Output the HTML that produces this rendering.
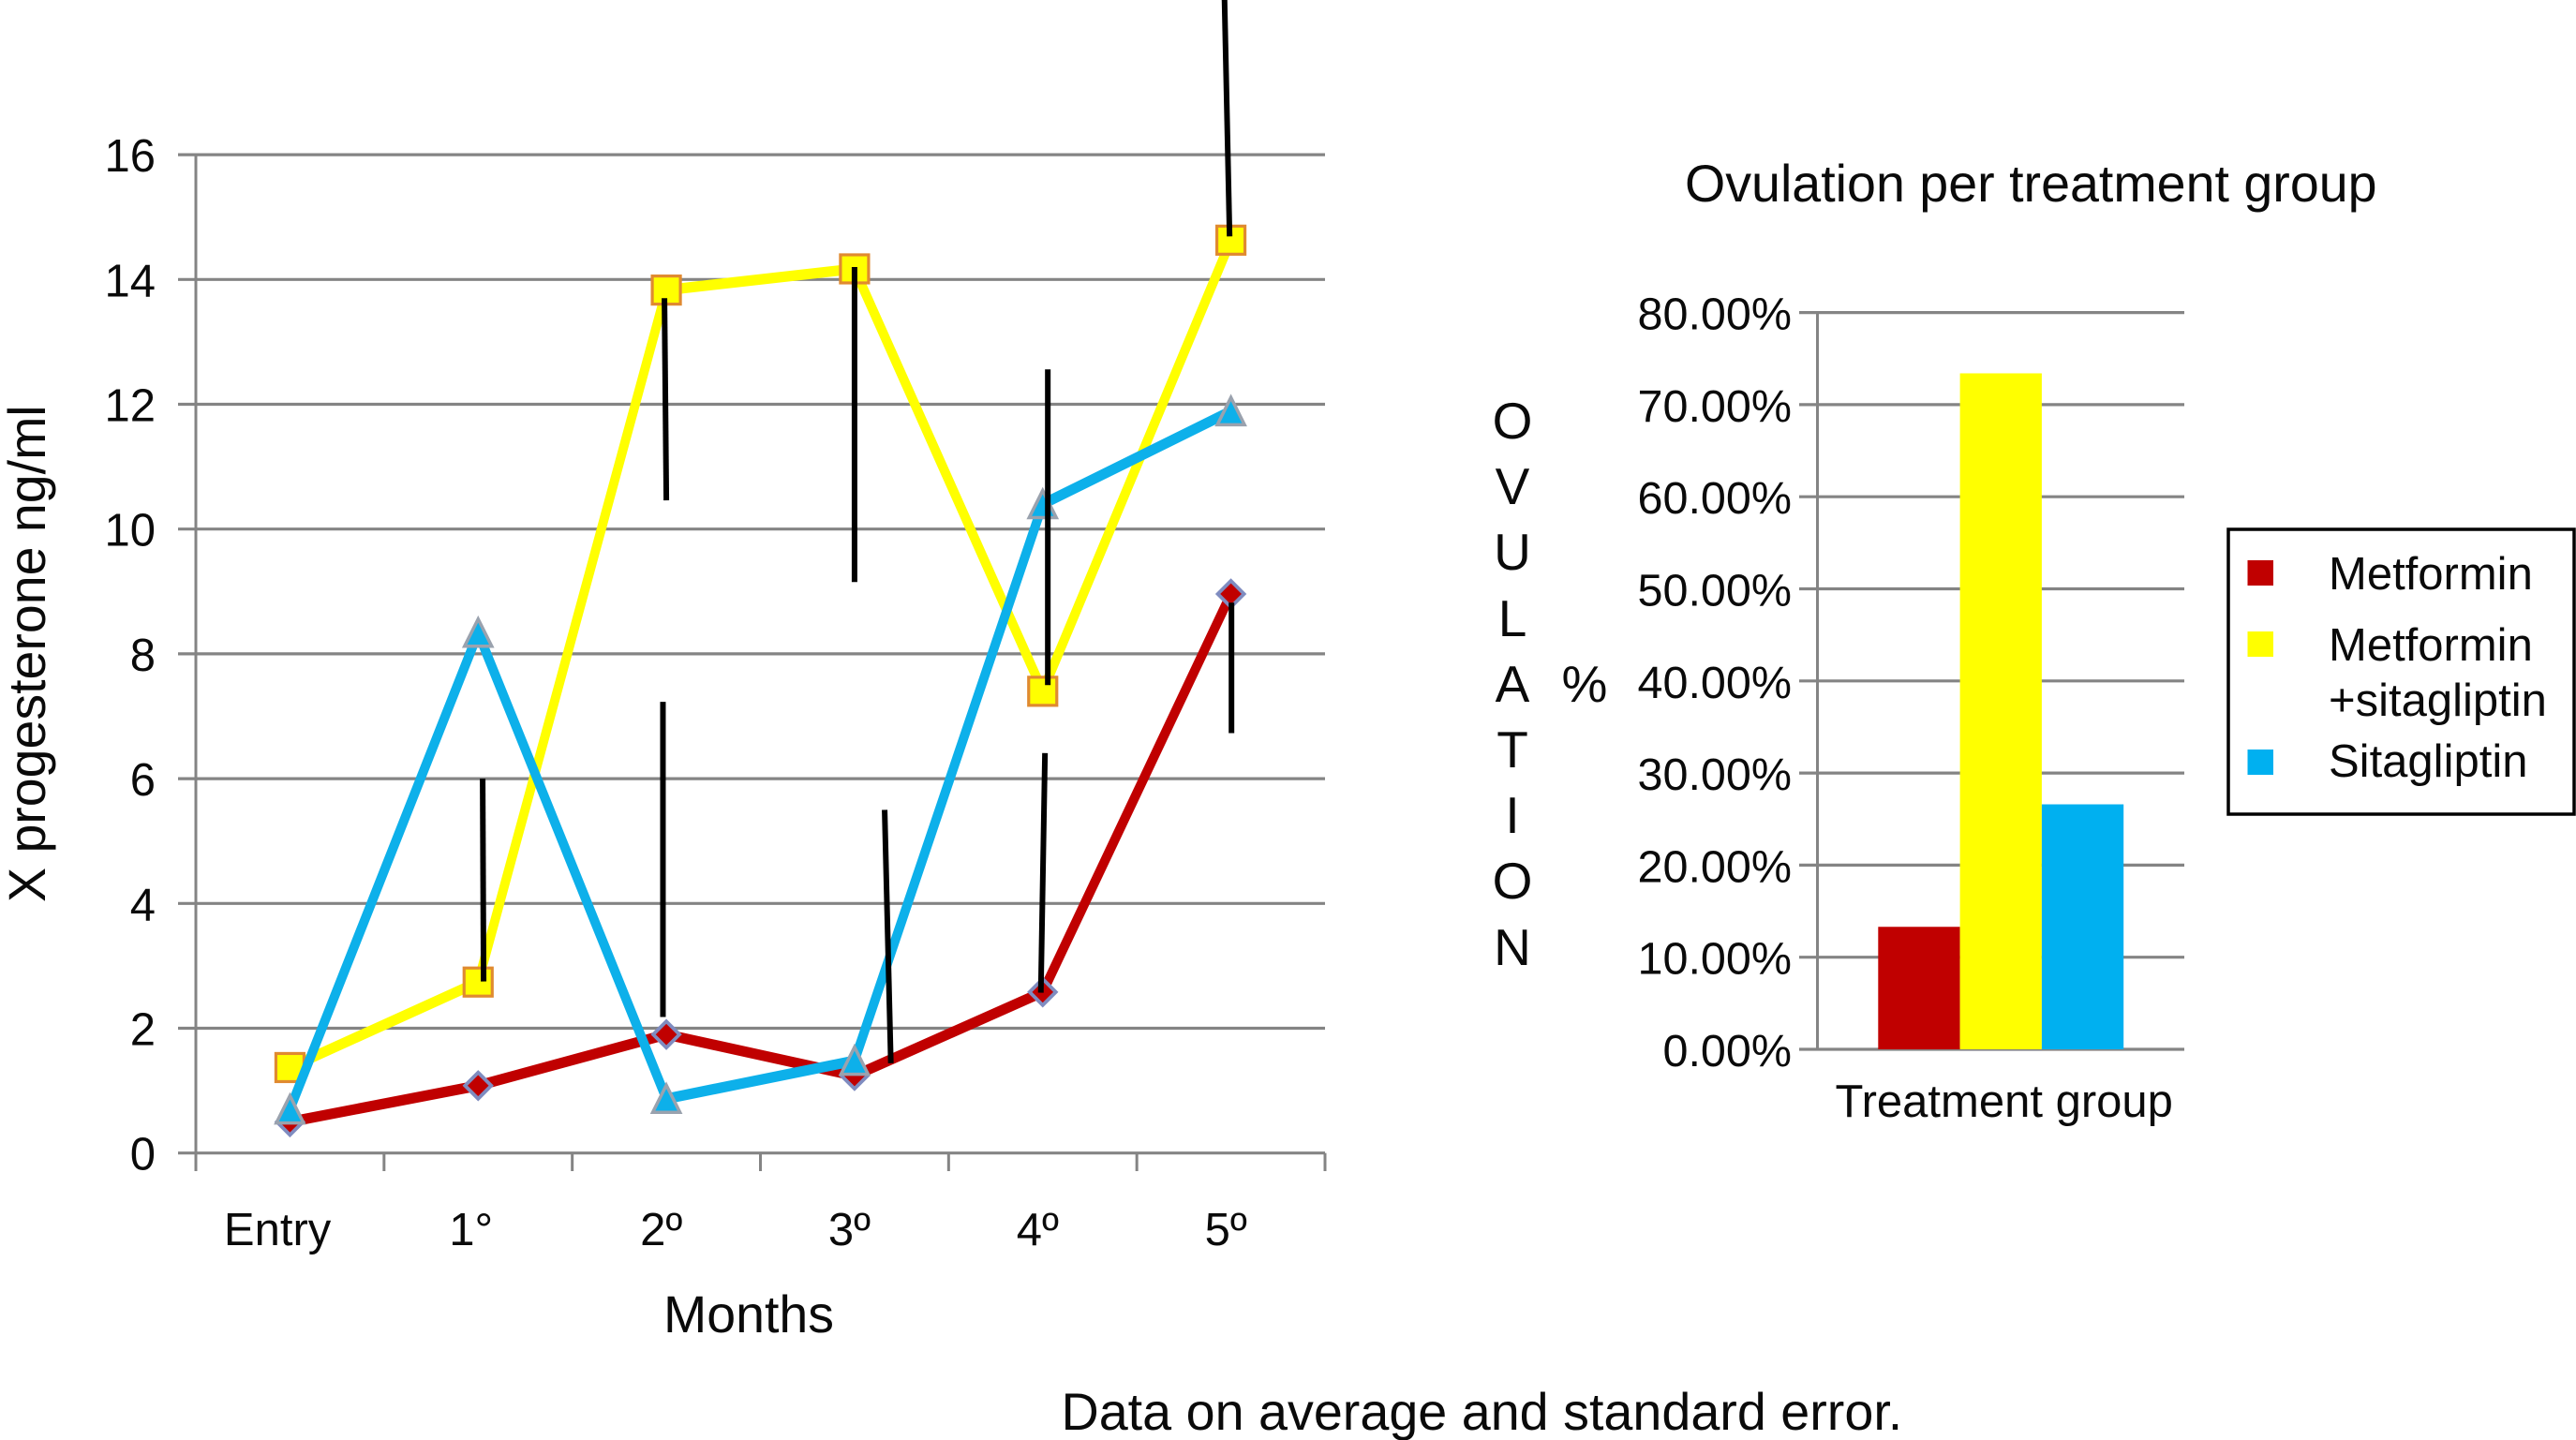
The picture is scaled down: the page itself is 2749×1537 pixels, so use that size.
<!DOCTYPE html>
<html lang="en">
<head>
<meta charset="utf-8">
<title>Progesterone and ovulation per treatment group</title>
<style>
  html, body { margin: 0; padding: 0; background: #ffffff; }
  body { width: 2749px; height: 1537px; overflow: hidden; }
  svg { display: block; }
  text { font-family: "Liberation Sans", Arial, sans-serif; fill: #0a0a0a; }
</style>
</head>
<body>
<svg id="figure" xmlns="http://www.w3.org/2000/svg" width="2749" height="1537" viewBox="0 0 2749 1537">
  <rect x="0" y="0" width="2749" height="1537" fill="#ffffff"/>

  <g id="line-chart"></g>
  <text transform="translate(48 963) rotate(-90)" font-size="55.5">X progesterone ng/ml</text>
  <text x="708" y="1422" font-size="55.5">Months</text>

  <text x="1798" y="215" font-size="55.6">Ovulation per treatment group</text>
  <g font-size="55" text-anchor="middle">
    <text x="1614" y="468">O</text>
    <text x="1614" y="538">V</text>
    <text x="1614" y="608">U</text>
    <text x="1614" y="679">L</text>
    <text x="1614" y="749">A</text>
    <text x="1614" y="819">T</text>
    <text x="1614" y="889">I</text>
    <text x="1614" y="959">O</text>
    <text x="1614" y="1030">N</text>
    <text x="1691" y="749">%</text>
  </g>
  <g id="bar-chart"></g>
  <text x="1958.5" y="1192" font-size="49">Treatment group</text>

  <g>
    <rect x="2378" y="565" width="369" height="304" fill="#ffffff" stroke="#000000" stroke-width="3.5"/>
    <rect x="2398.5" y="598" width="27.5" height="27" fill="#c00000"/>
    <text x="2485" y="629" font-size="49">Metformin</text>
    <rect x="2398.5" y="674" width="27.5" height="27" fill="#ffff00"/>
    <text font-size="49"><tspan x="2485" y="705">Metformin</tspan><tspan x="2485" y="764">+sitagliptin</tspan></text>
    <rect x="2398.5" y="800" width="27.5" height="27" fill="#00b0f0"/>
    <text x="2485" y="829" font-size="49">Sitagliptin</text>
  </g>

  <text x="1132.5" y="1526" font-size="55.7">Data on average and standard error.</text>
</svg>

<script>
// ---- Line chart data ----
const monthLabels = ["Entry", "1°", "2º", "3º", "4º", "5º"];
const yTickValues = [0, 2, 4, 6, 8, 10, 12, 14, 16];
const metforminValues = [0.5, 1.08, 1.9, 1.24, 2.58, 8.96];
const comboValues = [1.37, 2.74, 13.83, 14.17, 7.4, 14.63];
const sitagliptinValues = [0.7, 8.34, 0.87, 1.48, 10.4, 11.89];
// Standard-error whiskers: progesterone value at each end, and the month (as a fractional category) at each end
const errorHigh = [6.0, 13.7, 14.2, 12.56, 18.48, 7.23, 5.5, 6.41, 8.82];
const errorLow = [2.75, 10.46, 9.15, 7.5, 14.69, 2.18, 1.44, 2.57, 6.73];
const errorMonthHigh = [1.024, 1.99, 3.0, 4.027, 4.966, 1.982, 3.16, 4.012, 5.003];
const errorMonthLow = [1.029, 2.0, 3.0, 4.027, 4.993, 1.982, 3.193, 3.99, 5.003];

// ---- Bar chart data ----
const barTickValues = [0, 10, 20, 30, 40, 50, 60, 70, 80];
const barGroups = ["Metformin", "Metformin +sitagliptin", "Sitagliptin"];
const barValues = [13.3, 73.4, 26.6];

const SVGNS = "http://www.w3.org/2000/svg";
const GRID = "#848484";

function shape(parent, tag, attrs) {
  const el = document.createElementNS(SVGNS, tag);
  for (const k in attrs) el.setAttribute(k, attrs[k]);
  parent.appendChild(el);
  return el;
}

// ---- Line chart axes ----
const plot = { left: 209, right: 1414, y0: 1230.7, pxPerUnit: 66.6 };
const catWidth = (plot.right - plot.left) / monthLabels.length;
const xPos = c => plot.left + catWidth * (c + 0.5);
const yPos = v => plot.y0 - v * plot.pxPerUnit;

const lineChart = document.getElementById("line-chart");

yTickValues.forEach(v => {
  const grid = shape(lineChart, "line", { x1: 190, x2: plot.right, y1: yPos(v), y2: yPos(v), stroke: GRID, "stroke-width": 3.2 });
  
  
  const label = shape(lineChart, "text", { x: 166, y: yPos(v) + 18, "font-size": 49, "text-anchor": "end" });
  
  
  label.textContent = v;
});

const yAxisLine = shape(lineChart, "line", { x1: plot.left, x2: plot.left, y1: yPos(16), y2: 1250, stroke: GRID, "stroke-width": 3 });



monthLabels.forEach((m, i) => {
  const tick = shape(lineChart, "line", { x1: plot.left + catWidth * (i + 1), x2: plot.left + catWidth * (i + 1), y1: plot.y0, y2: 1250, stroke: GRID, "stroke-width": 3 });
  
  
  const offset = i === 0 ? -70.5 : (i === 1 ? -31 : -28);
  const label = shape(lineChart, "text", { x: xPos(i) + offset, y: 1329, "font-size": 49 });
  
  
  label.textContent = m;
});

// ---- Series ----
const strokeStretch = 1.15; // reference lines are slightly thicker on shallow segments
function drawLine(values, colour, name) {
  const g = shape(lineChart, "g", { transform: "scale(1 " + strokeStretch + ")" });
  
  
  const pts = values.map((v, i) => xPos(i).toFixed(1) + "," + (yPos(v) / strokeStretch).toFixed(1)).join(" ");
  const line = shape(g, "polyline", { points: pts, fill: "none", stroke: colour, "stroke-width": 9.8, "stroke-linejoin": "round" });
  
  
}

// Metformin
drawLine(metforminValues, "#c00000", "metformin");
metforminValues.forEach((v, i) => {
  const x = xPos(i), y = yPos(v), r = 14;
  const mark = shape(lineChart, "polygon", { points: `${x},${y - r} ${x + r},${y} ${x},${y + r} ${x - r},${y}`, fill: "#c00000", stroke: "#7f8cc0", "stroke-width": 3.8 });
  
  
});

// Metformin + sitagliptin
drawLine(comboValues, "#ffff00", "combo");
comboValues.forEach((v, i) => {
  const x = xPos(i), y = yPos(v), s = 30;
  const mark = shape(lineChart, "rect", { x: x - s / 2, y: y - s / 2, width: s, height: s, fill: "#ffff00", stroke: "#e08a30", "stroke-width": 3.2 });
  
  
});

// Sitagliptin
drawLine(sitagliptinValues, "#0db0ea", "sitagliptin");
sitagliptinValues.forEach((v, i) => {
  const x = xPos(i), y = yPos(v), r = 14.5;
  const mark = shape(lineChart, "polygon", { points: `${x},${y - r} ${x + r},${y + r} ${x - r},${y + r}`, fill: "#0db0ea", stroke: "#9aa2ae", "stroke-width": 3.5 });
  
  
});

// Error bars
errorHigh.forEach((hi, i) => {
  const bar = shape(lineChart, "line", { x1: xPos(errorMonthHigh[i]), y1: yPos(hi), x2: xPos(errorMonthLow[i]), y2: yPos(errorLow[i]), stroke: "#000000", "stroke-width": 6 });
  
  
});

// ---- Bar chart ----
const barPlot = { axisX: 1939.5, left: 1920, right: 2331, y0: 1120, pxPerPct: 9.83, barLeft: 2004.3, barWidth: 87.3 };
const barY = v => barPlot.y0 - v * barPlot.pxPerPct;
const barX = i => barPlot.barLeft + i * barPlot.barWidth;
const barChart = document.getElementById("bar-chart");

barTickValues.forEach(v => {
  const grid = shape(barChart, "line", { x1: barPlot.left, x2: barPlot.right, y1: barY(v), y2: barY(v), stroke: GRID, "stroke-width": 3.2 });
  
  
  const label = shape(barChart, "text", { x: 1912, y: barY(v) + 18, "font-size": 48.5, "text-anchor": "end" });
  
  
  label.textContent = v.toFixed(2) + "%";
});

const barAxis = shape(barChart, "line", { x1: barPlot.axisX, x2: barPlot.axisX, y1: barY(80), y2: barY(0), stroke: GRID, "stroke-width": 3 });



const barColours = ["#c00000", "#ffff00", "#00b0f0"];
barValues.forEach((v, i) => {
  const bar = shape(barChart, "rect", { x: barX(i), y: barY(v), width: barPlot.barWidth, height: barY(0) - barY(v), fill: barColours[i] });
  
  
});
</script>
</body>
</html>
